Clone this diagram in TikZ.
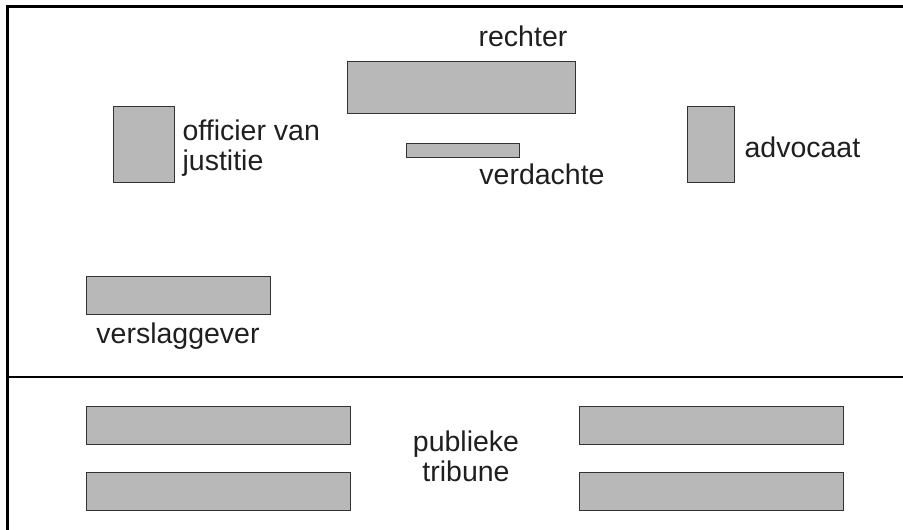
\documentclass[tikz,border=0pt]{standalone}
\usepackage{fontspec}
\setmainfont{Liberation Sans}
\usetikzlibrary{positioning}

\begin{document}
\begin{tikzpicture}[x=1pt,y=-1pt,node distance=8pt,
                    bench/.style={draw=black!80,fill=black!28,line width=0.8pt,inner sep=0pt},
                    lbl/.style={font=\fontsize{28.5}{30}\selectfont,text=black!88,inner sep=0pt,align=left}]
  \useasboundingbox (0,0) rectangle (903,530);

  % walls of the room
  \draw[line width=3pt] (7,531) -- (7,6) -- (904,6);
  \draw[line width=1.6pt] (7,377) -- (904,377);

  % judge and suspect
  \node[bench,minimum width=228pt,minimum height=52pt] (rechter) at (461,87) {};
  \node[lbl,anchor=base] (rechterlbl) at (523,46) {rechter};
  \node[bench,minimum width=113pt,minimum height=14pt] (verdachte) at (462.5,150) {};
  \node[lbl,anchor=base] (verdachtelbl) at (542,184) {verdachte};

  % prosecution and defence
  \node[bench,minimum width=61pt,minimum height=76pt] (officier) at (143.5,144) {};
  \node[lbl,right=8pt of officier,yshift=-4pt] (officierlbl) {officier van\\justitie};
  \node[bench,minimum width=47pt,minimum height=76pt] (advocaat) at (710.5,144) {};
  \node[lbl,right=10pt of advocaat,yshift=-3pt] (advocaatlbl) {advocaat};

  % press
  \node[bench,minimum width=184pt,minimum height=38pt] (pers) at (178,295) {};
  \node[lbl,below=8pt of pers] (perslbl) {verslaggever};

  % public gallery
  \foreach \n/\x/\y in {L1/218/425, L2/218/491, R1/711.5/425, R2/711.5/491}
    \node[bench,minimum width=264pt,minimum height=38pt] (bank\n) at (\x,\y) {};
  \node[lbl,align=center] (publiek) at (466,456) {publieke\\tribune};
\end{tikzpicture}
\end{document}
